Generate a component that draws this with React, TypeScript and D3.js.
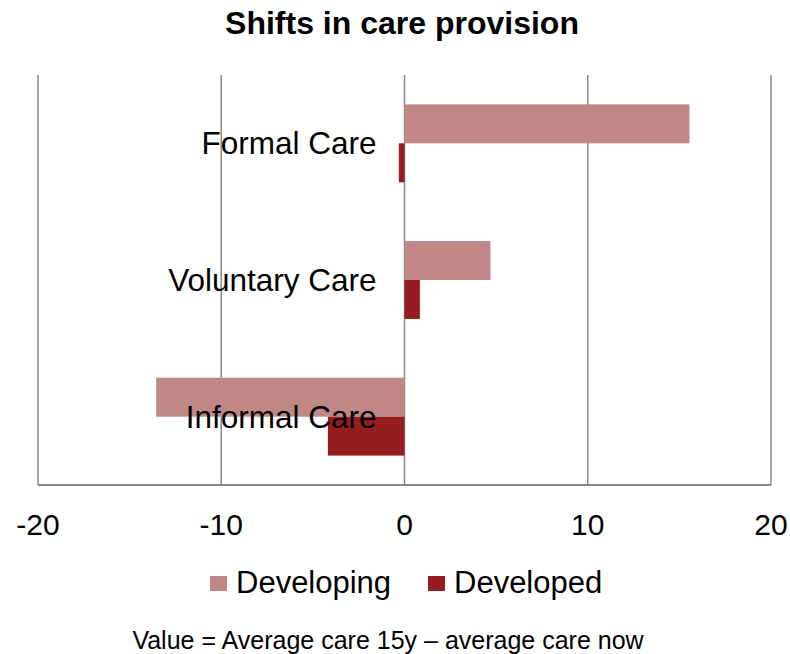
import React from "react";
import * as d3 from "d3";

const categories = ["Formal Care", "Voluntary Care", "Informal Care"];
const seriesNames = ["Developing", "Developed"];
const developing = [15.55, 4.69, -13.55];
const developed = [-0.31, 0.84, -4.18];
const xTicks = [-20, -10, 0, 10, 20];
const colors = ["#BF8785", "#951C1F"];
const title = "Shifts in care provision";
const caption = "Value = Average care 15y \u2013 average care now";

export default function App() {
  const W = 790, H = 654;
  const left = 38, right = 771, top = 75, bottom = 485;
  const x = d3.scaleLinear().domain([-20, 20]).range([left, right]);
  const y = d3.scaleBand<string>().domain(categories).range([top, bottom]).paddingInner(0.43).paddingOuter(0.215);
  const sub = d3.scaleBand<string>().domain(seriesNames).range([0, y.bandwidth()]);
  const series = [developing, developed];
  const font = "'Liberation Sans', Arial, sans-serif";
  const grid = "#898989";

  return (
    <svg width={W} height={H} style={{ position: "absolute", left: 0, top: 0 }} fontFamily={font}>
      <rect width={W} height={H} fill="#fff" />
      <text x={402} y={34} textAnchor="middle" fontSize={32} fontWeight="bold" fill="#000">{title}</text>
      {xTicks.map((t) => (
        <line key={t} x1={x(t)} x2={x(t)} y1={top} y2={bottom} stroke={grid} strokeWidth={1.5} />
      ))}
      <line x1={left} x2={right} y1={bottom} y2={bottom} stroke={grid} strokeWidth={1.8} />
      {categories.map((c, i) =>
        series.map((s, j) => {
          const v = s[i];
          const x0 = x(Math.min(0, v));
          const x1 = x(Math.max(0, v));
          return (
            <rect key={c + j} x={x0} width={x1 - x0} y={(y(c) as number) + (sub(seriesNames[j]) as number)} height={sub.bandwidth()} fill={colors[j]} />
          );
        })
      )}
      {categories.map((c) => (
        <text key={c} x={x(0) - 28} y={(y(c) as number) + y.bandwidth() / 2 + 11} textAnchor="end" fontSize={31.5} fill="#000">{c}</text>
      ))}
      {xTicks.map((t) => (
        <text key={t} x={x(t)} y={535} textAnchor="middle" fontSize={30} fill="#000">{String(t)}</text>
      ))}
      {seriesNames.map((n, i) => {
        const sx = i === 0 ? 210 : 428;
        return (
          <g key={n}>
            <rect x={sx} y={576} width={17} height={15} fill={colors[i]} />
            <text x={sx + 26} y={593} fontSize={31} fill="#000">{n}</text>
          </g>
        );
      })}
      <text x={388} y={649} textAnchor="middle" fontSize={25} fill="#000">{caption}</text>
    </svg>
  );
}
